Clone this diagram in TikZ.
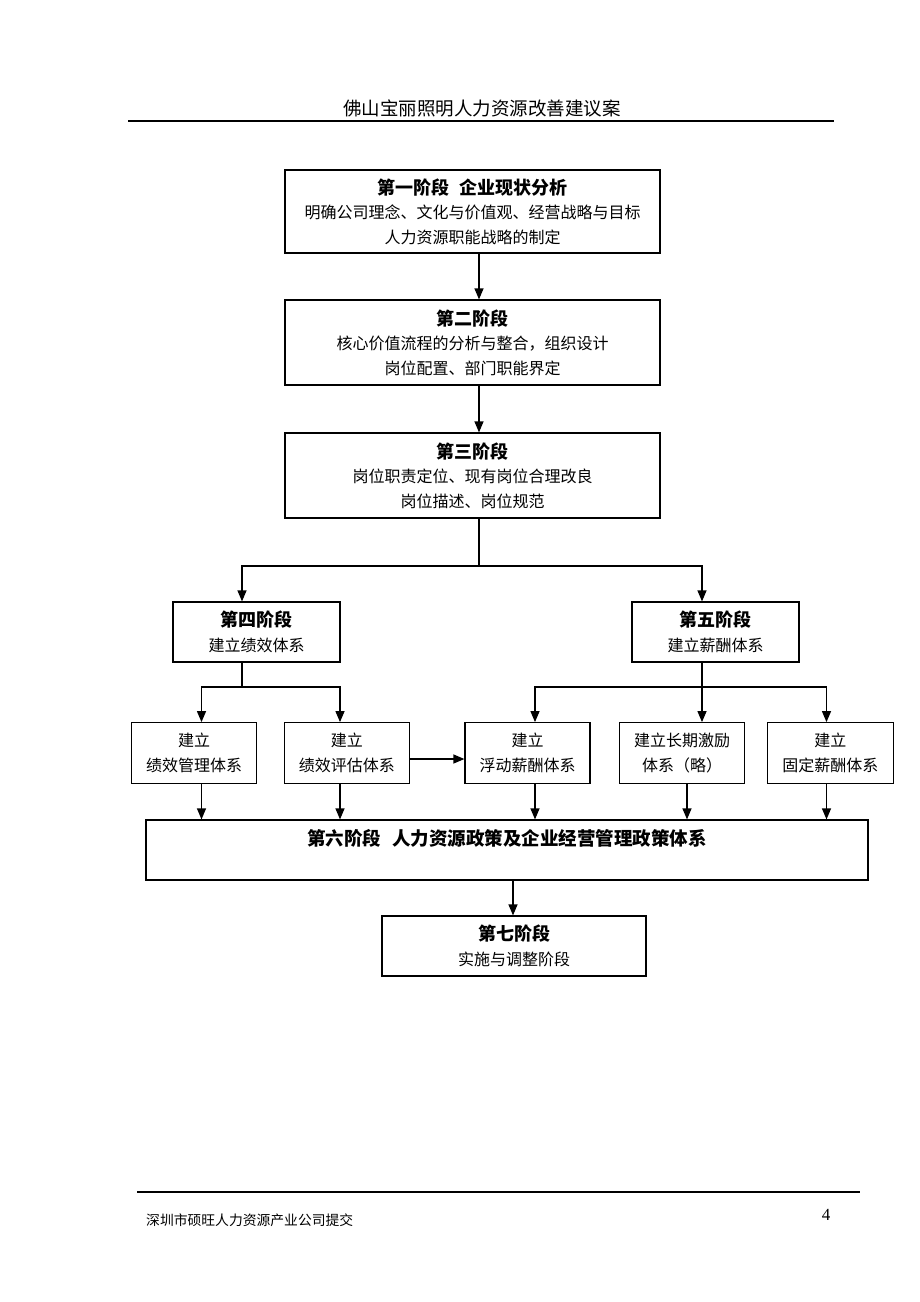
\documentclass[tikz,border=0pt]{standalone}
\usepackage{fontspec}
\setmainfont{Noto Sans CJK SC}
\newfontfamily\numfont{Liberation Serif}
\usetikzlibrary{arrows.meta,calc}
\tikzset{
  box/.style={draw, line width=1.2pt, inner sep=0pt, align=center,
    font=\fontsize{16}{24.5}\selectfont},
  ln/.style={line width=1.2pt},
  arr/.style={line width=1.2pt, -{Triangle[length=11pt,width=9pt]}},
}
\newcommand{\stg}[1]{{\bfseries\fontsize{18}{24.5}\selectfont #1}}
\begin{document}
\begin{tikzpicture}[x=1pt,y=-1pt]
\useasboundingbox (0,0) rectangle (920,1302);
% header
\node (hdr) at (482,108) {\fontsize{18.5}{18.5}\selectfont 佛山宝丽照明人力资源改善建议案};
\coordinate (hl) at (128,121);
\coordinate (hr) at (834,121);
\draw[ln] (hl) -- (hr);
% boxes
\node[box, minimum width=375pt, minimum height=83pt] (b1) at (472.5,211.5)
  {\stg{第一阶段\hspace{0.6em}企业现状分析}\\明确公司理念、文化与价值观、经营战略与目标\\人力资源职能战略的制定};
\node[box, minimum width=375pt, minimum height=85pt] (b2) at (472.5,342.5)
  {\stg{第二阶段}\\核心价值流程的分析与整合，组织设计\\岗位配置、部门职能界定};
\node[box, minimum width=375pt, minimum height=85pt] (b3) at (472.5,475.5)
  {\stg{第三阶段}\\岗位职责定位、现有岗位合理改良\\岗位描述、岗位规范};
\node[box, minimum width=167pt, minimum height=60pt] (b4) at (256.5,632)
  {\stg{第四阶段}\\建立绩效体系};
\node[box, minimum width=167pt, minimum height=60pt] (b5) at (715.5,632)
  {\stg{第五阶段}\\建立薪酬体系};
\node[box, minimum width=125pt, minimum height=60.6pt] (ba) at (194.2,753)
  {建立\\绩效管理体系};
\node[box, minimum width=125pt, minimum height=60.6pt] (bb) at (346.8,753)
  {建立\\绩效评估体系};
\node[box, minimum width=125pt, minimum height=60.6pt] (bc) at (527.5,753)
  {建立\\浮动薪酬体系};
\node[box, minimum width=125.4pt, minimum height=60.6pt] (bd) at (682,753)
  {建立长期激励\\体系（略）};
\node[box, minimum width=126pt, minimum height=60.6pt] (be) at (830.3,753)
  {建立\\固定薪酬体系};
\node[box, minimum width=722pt, minimum height=60pt] (b6) at (507,850)
  {{\bfseries\fontsize{18.5}{24.5}\selectfont 第六阶段\hspace{0.6em}人力资源政策及企业经营管理政策体系}\\\mbox{}};
\node[box, minimum width=264pt, minimum height=60pt] (b7) at (514,946)
  {\stg{第七阶段}\\实施与调整阶段};
% guide coordinates
\coordinate (x479) at (479,0);
\coordinate (x242) at (242,0);
\coordinate (x702) at (702,0);
\coordinate (x201) at (201.5,0);
\coordinate (x340) at (340,0);
\coordinate (x535) at (535,0);
\coordinate (x827) at (826.5,0);
\coordinate (x687) at (687,0);
\coordinate (x513) at (513,0);
\coordinate (yh) at (0,759);
\coordinate (j3) at (479,566);
\coordinate (j4) at (242,687);
\coordinate (j5) at (702,687);
% connectors
\draw[arr] (b1.south -| x479) -- (b2.north -| x479);
\draw[arr] (b2.south -| x479) -- (b3.north -| x479);
\draw[ln] (b3.south -| j3) -- (j3);
\draw[arr] (j3) -| (b4.north -| x242);
\draw[arr] (j3) -| (b5.north -| x702);
\draw[ln] (b4.south -| j4) -- (j4);
\draw[arr] (j4) -| (ba.north -| x201);
\draw[arr] (j4) -| (bb.north -| x340);
\draw[arr] (b5.south -| j5) -- (bd.north -| j5);
\draw[arr] (j5) -| (bc.north -| x535);
\draw[arr] (j5) -| (be.north -| x827);
\draw[arr] (bb.east |- yh) -- (bc.west |- yh);
\draw[arr] (ba.south -| x201) -- (b6.north -| x201);
\draw[arr] (bb.south -| x340) -- (b6.north -| x340);
\draw[arr] (bc.south -| x535) -- (b6.north -| x535);
\draw[arr] (bd.south -| x687) -- (b6.north -| x687);
\draw[arr] (be.south -| x827) -- (b6.north -| x827);
\draw[arr] (b6.south -| x513) -- (b7.north -| x513);
% footer
\coordinate (fl) at (137,1192);
\coordinate (fr) at (860,1192);
\draw[ln] (fl) -- (fr);
\node[anchor=west, inner sep=0pt] (ftxt) at (146,1220) {\fontsize{13.8}{14}\selectfont 深圳市硕旺人力资源产业公司提交};
\node (pg) at (826,1215) {\numfont\fontsize{17}{17}\selectfont 4};
\end{tikzpicture}
\end{document}
